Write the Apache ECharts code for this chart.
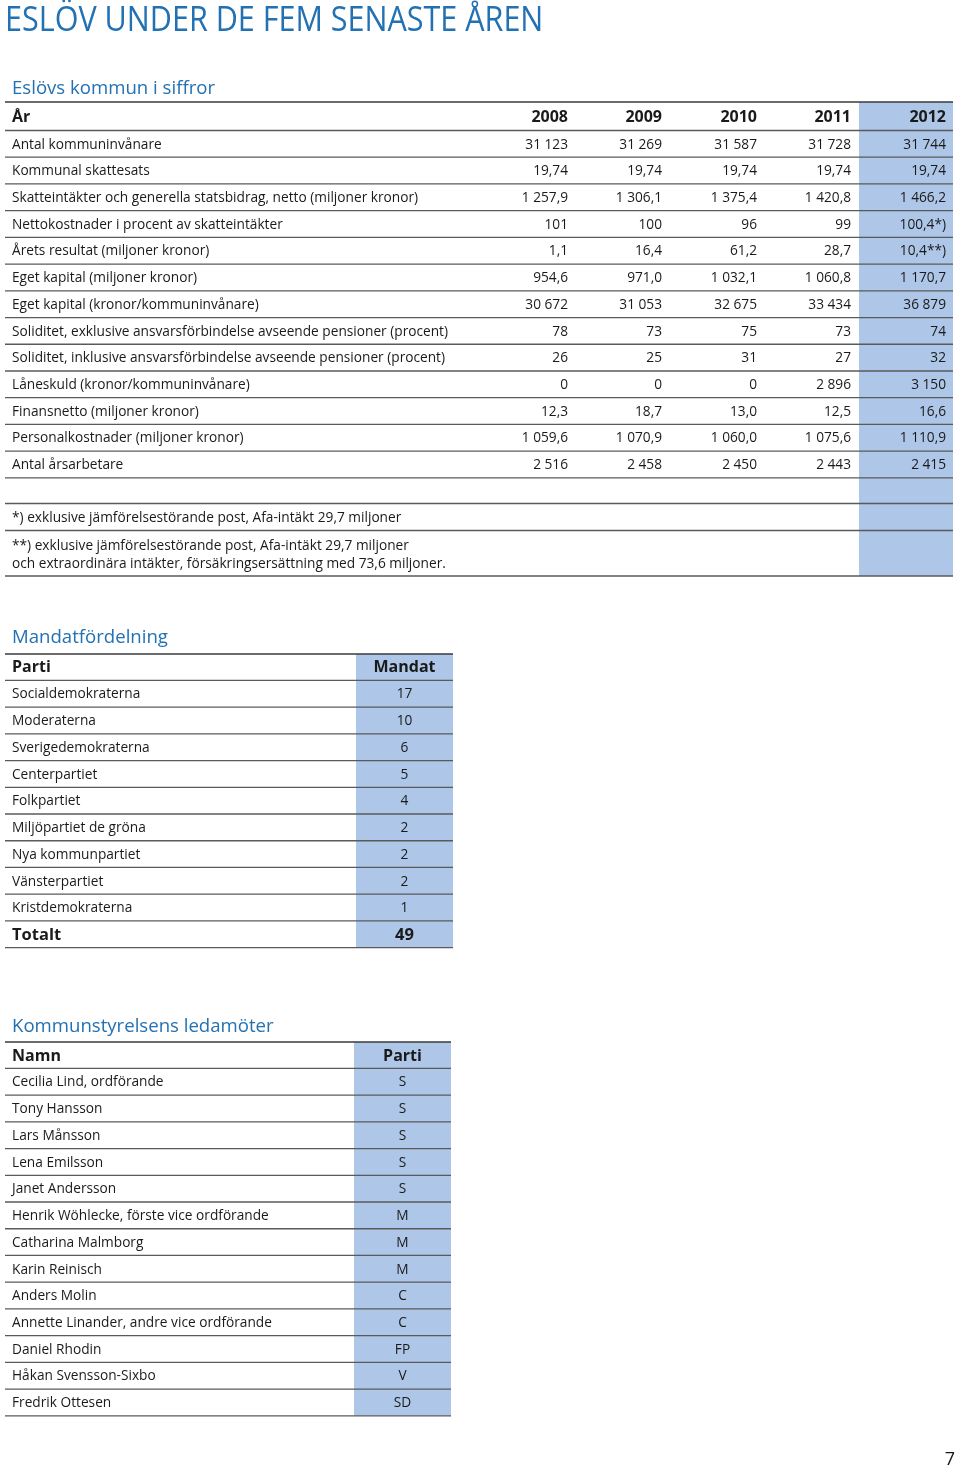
<!DOCTYPE html>
<html>
<head>
<meta charset="utf-8">
<script src="https://cdn.jsdelivr.net/npm/echarts@6/dist/echarts.min.js"></script>
<style>
  html, body { margin: 0; background: #fff; }
  #main { width: 960px; height: 1468px; }
</style>
</head>
<body>
<div id="main"></div>
<script>
// ---- data ----
const pageTitle = 'ESLÖV UNDER DE FEM SENASTE ÅREN'
const years = ['2008', '2009', '2010', '2011', '2012']
const keyLabels = [
  'Antal kommuninvånare',
  'Kommunal skattesats',
  'Skatteintäkter och generella statsbidrag, netto (miljoner kronor)',
  'Nettokostnader i procent av skatteintäkter',
  'Årets resultat (miljoner kronor)',
  'Eget kapital (miljoner kronor)',
  'Eget kapital (kronor/kommuninvånare)',
  'Soliditet, exklusive ansvarsförbindelse avseende pensioner (procent)',
  'Soliditet, inklusive ansvarsförbindelse avseende pensioner (procent)',
  'Låneskuld (kronor/kommuninvånare)',
  'Finansnetto (miljoner kronor)',
  'Personalkostnader (miljoner kronor)',
  'Antal årsarbetare'
]
const keyValues = [
  ['31 123', '31 269', '31 587', '31 728', '31 744'],
  ['19,74', '19,74', '19,74', '19,74', '19,74'],
  ['1 257,9', '1 306,1', '1 375,4', '1 420,8', '1 466,2'],
  ['101', '100', '96', '99', '100,4*)'],
  ['1,1', '16,4', '61,2', '28,7', '10,4**)'],
  ['954,6', '971,0', '1 032,1', '1 060,8', '1 170,7'],
  ['30 672', '31 053', '32 675', '33 434', '36 879'],
  ['78', '73', '75', '73', '74'],
  ['26', '25', '31', '27', '32'],
  ['0', '0', '0', '2 896', '3 150'],
  ['12,3', '18,7', '13,0', '12,5', '16,6'],
  ['1 059,6', '1 070,9', '1 060,0', '1 075,6', '1 110,9'],
  ['2 516', '2 458', '2 450', '2 443', '2 415']
]
const footnotes = [
  ['*) exklusive jämförelsestörande post, Afa-intäkt 29,7 miljoner'],
  ['**) exklusive jämförelsestörande post, Afa-intäkt 29,7 miljoner',
   'och extraordinära intäkter, försäkringsersättning med 73,6 miljoner.']
]
const parties = ['Socialdemokraterna', 'Moderaterna', 'Sverigedemokraterna', 'Centerpartiet',
  'Folkpartiet', 'Miljöpartiet de gröna', 'Nya kommunpartiet', 'Vänsterpartiet', 'Kristdemokraterna']
const seats = [17, 10, 6, 5, 4, 2, 2, 2, 1]
const members = ['Cecilia Lind, ordförande', 'Tony Hansson', 'Lars Månsson', 'Lena Emilsson',
  'Janet Andersson', 'Henrik Wöhlecke, förste vice ordförande', 'Catharina Malmborg',
  'Karin Reinisch', 'Anders Molin', 'Annette Linander, andre vice ordförande',
  'Daniel Rhodin', 'Håkan Svensson-Sixbo', 'Fredrik Ottesen']
const memberParty = ['S', 'S', 'S', 'S', 'S', 'M', 'M', 'M', 'C', 'C', 'FP', 'V', 'SD']

// ---- style ----
const FONT = '"Open Sans", "Noto Sans", sans-serif'
const BLUE_TEXT = '#2271b3'
const BLUE_FILL = '#aec6e7'
const INK = '#1a1a1a'
const RULE = '#5a5a5a'
const ROW_H = 26.72

let g = []

function txt(x, y, s, o) {
  o = o || {}
  g.push({
    type: 'text', x: x, y: y + 0.8, silent: true, z: 5,
    scaleX: o.scaleX || 1,
    style: {
      text: s, fill: o.color || INK, font: (o.weight || 'normal') + ' ' + (o.size || 13.7) + 'px ' + FONT,
      textAlign: o.align || 'left', textVerticalAlign: 'middle'
    }
  })
}
function rule(x1, x2, y, w, c) {
  g.push({
    type: 'line', silent: true, z: 4,
    shape: { x1: x1, y1: y, x2: x2, y2: y },
    style: { stroke: c || RULE, lineWidth: w || 1 }
  })
}
function box(x, y, w, h) {
  g.push({ type: 'rect', silent: true, z: 1, shape: { x: x, y: y, width: w, height: h }, style: { fill: BLUE_FILL } })
}

// page title
txt(5, 20.5, pageTitle, { size: 35.5, color: BLUE_TEXT, scaleX: 0.86 })

// ---- table 1: Eslövs kommun i siffror ----
const t1 = { left: 5, right: 953, top: 102 }
const colRight = [568, 662, 757, 851, 946]
txt(12, 88, 'Eslövs kommun i siffror', { size: 18.6, color: BLUE_TEXT })
box(859, t1.top, t1.right - 859, 576 - t1.top)
rule(t1.left, t1.right, t1.top, 1.5, '#3a3a3a')
txt(12, 117, 'År', { size: 16, weight: 'bold' })
years.forEach((y, j) => txt(colRight[j], 117, y, { size: 16, weight: 'bold', align: 'right' }))
const t1Head = 130.5
rule(t1.left, t1.right, t1Head, 1.3)
keyLabels.forEach((lab, i) => {
  const cy = t1Head + ROW_H * i + ROW_H / 2
  txt(12, cy, lab)
  keyValues[i].forEach((v, j) => txt(colRight[j], cy, v, { align: 'right' }))
  rule(t1.left, t1.right, t1Head + ROW_H * (i + 1), 1.3)
})
// footnotes
rule(t1.left, t1.right, 503.5, 1.3)
txt(12, 517, footnotes[0][0])
rule(t1.left, t1.right, 530.5, 1.3)
txt(12, 545, footnotes[1][0])
txt(12, 563, footnotes[1][1])
rule(t1.left, t1.right, 576, 1.3)

// ---- table 2: Mandatfördelning ----
const t2 = { left: 5, right: 453, top: 654, colL: 356 }
txt(12, 637, 'Mandatfördelning', { size: 18.6, color: BLUE_TEXT })
const t2Head = t2.top + ROW_H * 1 - 0.3
box(t2.colL, t2.top, t2.right - t2.colL, t2Head + ROW_H * (parties.length + 1) - t2.top)
rule(t2.left, t2.right, t2.top, 1.5, '#3a3a3a')
const t2Mid = (t2.colL + t2.right) / 2
txt(12, 667, 'Parti', { size: 16, weight: 'bold' })
txt(t2Mid, 667, 'Mandat', { size: 16, weight: 'bold', align: 'center' })
rule(t2.left, t2.right, t2Head, 1.3)
parties.forEach((p, i) => {
  const cy = t2Head + ROW_H * i + ROW_H / 2
  txt(12, cy, p)
  txt(t2Mid, cy, String(seats[i]), { align: 'center' })
  rule(t2.left, t2.right, t2Head + ROW_H * (i + 1), 1.3)
})
const totalSeats = seats.reduce((a, b) => a + b, 0)
const totY = t2Head + ROW_H * parties.length + ROW_H / 2
txt(12, totY, 'Totalt', { size: 16.5, weight: 'bold' })
txt(t2Mid, totY, String(totalSeats), { size: 16.5, weight: 'bold', align: 'center' })
rule(t2.left, t2.right, t2Head + ROW_H * (parties.length + 1), 1.3)

// ---- table 3: Kommunstyrelsens ledamöter ----
const t3 = { left: 5, right: 451, top: 1042, colL: 354 }
txt(12, 1026, 'Kommunstyrelsens ledamöter', { size: 18.6, color: BLUE_TEXT })
const t3Head = t3.top + ROW_H - 0.3
box(t3.colL, t3.top, t3.right - t3.colL, t3Head + ROW_H * members.length - t3.top)
rule(t3.left, t3.right, t3.top, 1.5, '#3a3a3a')
const t3Mid = (t3.colL + t3.right) / 2
txt(12, 1056, 'Namn', { size: 16, weight: 'bold' })
txt(t3Mid, 1056, 'Parti', { size: 16, weight: 'bold', align: 'center' })
rule(t3.left, t3.right, t3Head, 1.3)
members.forEach((m, i) => {
  const cy = t3Head + ROW_H * i + ROW_H / 2
  txt(12, cy, m)
  txt(t3Mid, cy, memberParty[i], { align: 'center' })
  rule(t3.left, t3.right, t3Head + ROW_H * (i + 1), 1.3)
})

// page number
txt(955, 1459, '7', { size: 18, align: 'right' })

const chart = echarts.init(document.getElementById('main'))
chart.setOption({
  backgroundColor: '#fff',
  animation: false,
  graphic: { elements: g }
})
</script>
</body>
</html>
